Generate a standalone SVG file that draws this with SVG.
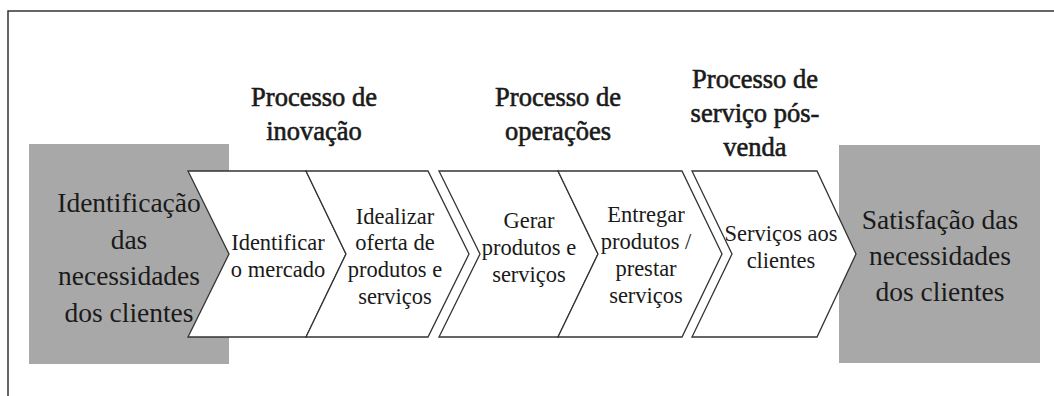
<svg xmlns="http://www.w3.org/2000/svg" width="1054" height="396" viewBox="0 0 1054 396">
<style>
.frame{fill:none;stroke:#333;stroke-width:1.5}
.gray{fill:#a8a8a8}
.chev{fill:#fff;stroke:#333;stroke-width:1.3;stroke-linejoin:miter}
text{fill:#1a1a1a;text-anchor:middle}
.big{font-size:27.5px}
.small{font-size:22.5px}
.head{font-size:26.5px;stroke:#1a1a1a;stroke-width:0.6}
</style>
<rect width="1054" height="396" fill="#fff"/>
<path class="frame" d="M8,396 V11 H1054"/>
<g id="connectors"/>
<g id="identificacao">
<rect class="gray" x="29" y="144" width="200" height="220"/>
</g>
<g id="satisfacao">
<rect class="gray" x="839" y="145" width="201" height="218"/>
</g>
<g font-family="'Liberation Serif', Tinos, 'Times New Roman', 'DejaVu Serif', serif">
<g id="identificar-mercado">
<path class="chev" d="M188,171 L306,171 L346,254 L306,337 L188,337 L229,254 Z"/>
<text class="small" x="278" y="250">Identificar</text>
<text class="small" x="278" y="277">o mercado</text>
</g>
<g id="idealizar-oferta">
<path class="chev" d="M306,171 L428,171 L469,254 L428,337 L306,337 L346,254 Z"/>
<text class="small" x="395" y="224">Idealizar</text>
<text class="small" x="395" y="250">oferta de</text>
<text class="small" x="395" y="277">produtos e</text>
<text class="small" x="395" y="304">serviços</text>
</g>
<g id="gerar-produtos">
<path class="chev" d="M439,171 L558,171 L598,254 L558,337 L439,337 L480,254 Z"/>
<text class="small" x="529" y="228">Gerar</text>
<text class="small" x="529" y="255">produtos e</text>
<text class="small" x="529" y="282">serviços</text>
</g>
<g id="entregar-produtos">
<path class="chev" d="M558,171 L682,171 L722,254 L682,337 L558,337 L598,254 Z"/>
<text class="small" x="646" y="222">Entregar</text>
<text class="small" x="646" y="249">produtos /</text>
<text class="small" x="646" y="276">prestar</text>
<text class="small" x="646" y="303">serviços</text>
</g>
<g id="servicos-clientes">
<path class="chev" d="M692,171 L817,171 L856,254 L817,337 L692,337 L732,254 Z"/>
<text class="small" x="781" y="241">Serviços aos</text>
<text class="small" x="781" y="268">clientes</text>
</g>
<g id="identificacao-text">
<text class="big" x="129" y="212">Identificação</text>
<text class="big" x="129" y="249">das</text>
<text class="big" x="129" y="285">necessidades</text>
<text class="big" x="129" y="322">dos clientes</text>
</g>
<g id="satisfacao-text">
<text class="big" x="940" y="229">Satisfação das</text>
<text class="big" x="940" y="265">necessidades</text>
<text class="big" x="940" y="301">dos clientes</text>
</g>
<g id="header-inovacao">
<text class="head" x="314" y="106">Processo de</text>
<text class="head" x="314" y="140">inovação</text>
</g>
<g id="header-operacoes">
<text class="head" x="558" y="106">Processo de</text>
<text class="head" x="558" y="140">operações</text>
</g>
<g id="header-posvenda">
<text class="head" x="755" y="88">Processo de</text>
<text class="head" x="755" y="122">serviço pós-</text>
<text class="head" x="755" y="156">venda</text>
</g>
</g>
</svg>
